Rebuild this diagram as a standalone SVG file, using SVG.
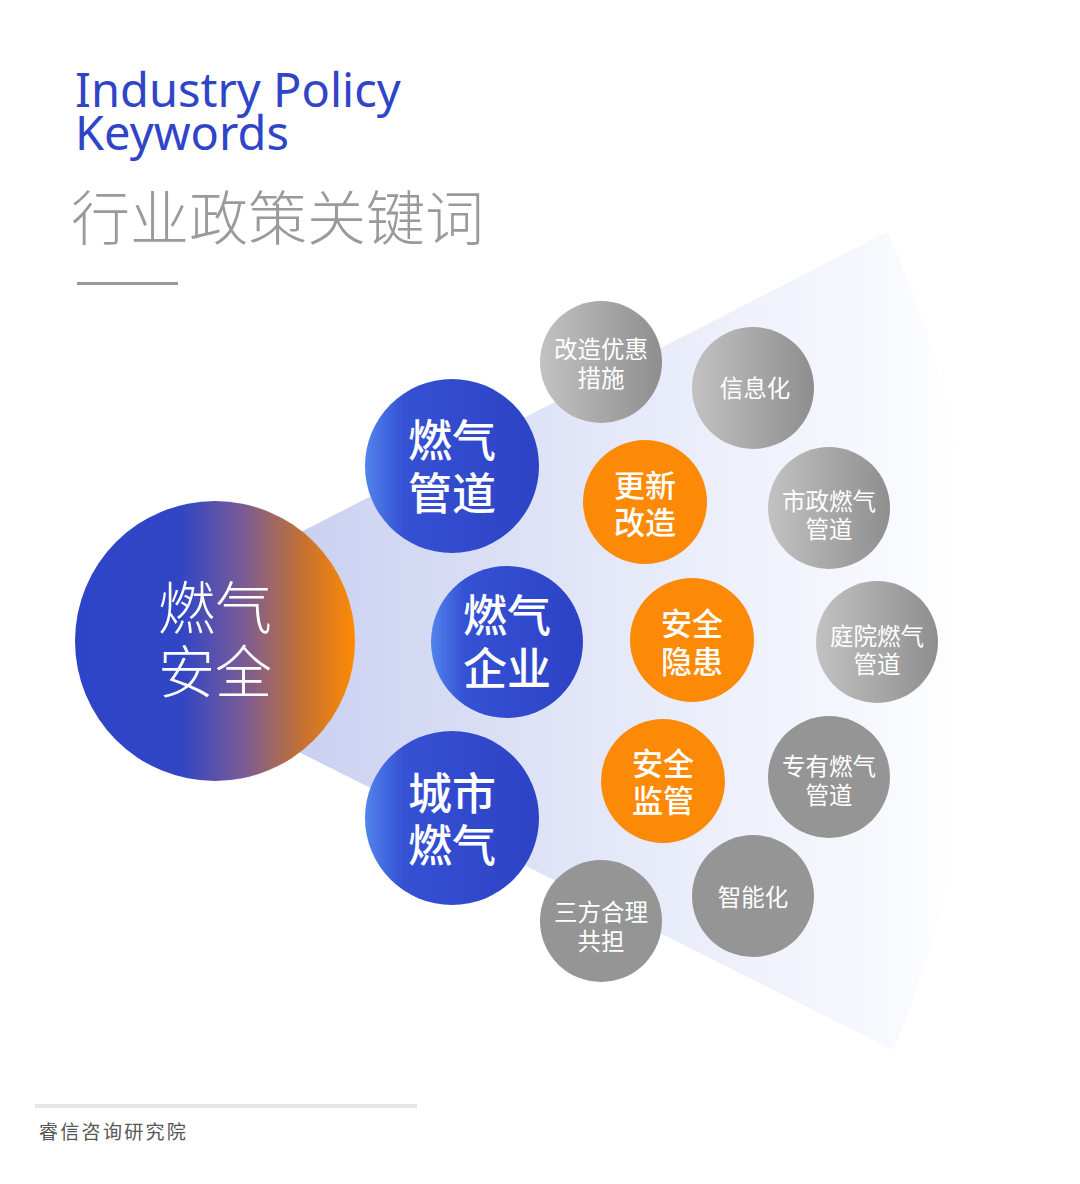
<svg xmlns="http://www.w3.org/2000/svg" width="1080" height="1184" viewBox="0 0 1080 1184">
<defs>
<linearGradient id="fanGrad" x1="215" y1="0" x2="960" y2="0" gradientUnits="userSpaceOnUse">
<stop offset="0" stop-color="#c3c9ee"/>
<stop offset="0.35" stop-color="#d9def5"/>
<stop offset="0.7" stop-color="#eef1fb"/>
<stop offset="0.9" stop-color="#f8f9fe"/>
<stop offset="1" stop-color="#ffffff"/>
</linearGradient>
<linearGradient id="mainGrad" x1="0" y1="0" x2="1" y2="0">
<stop offset="0" stop-color="#2e44c8"/>
<stop offset="0.38" stop-color="#3146c5"/>
<stop offset="0.6" stop-color="#7a5b97"/>
<stop offset="0.82" stop-color="#c6722f"/>
<stop offset="1" stop-color="#ff8a04"/>
</linearGradient>
<linearGradient id="blueGrad" x1="0" y1="0" x2="1" y2="0">
<stop offset="0" stop-color="#5284ec"/>
<stop offset="0.22" stop-color="#3551d4"/>
<stop offset="1" stop-color="#2d42c4"/>
</linearGradient>
<linearGradient id="greyGrad" x1="0" y1="0" x2="1" y2="0">
<stop offset="0" stop-color="#c2c2c2"/>
<stop offset="1" stop-color="#8e8e8e"/>
</linearGradient>
</defs>
<style>
.cjk{font-family:"Noto Sans CJK SC","Noto Sans",sans-serif;}
.main{fill:url(#mainGrad);}
.blue{fill:url(#blueGrad);}
.orange{fill:#fd8a06;}
.greyg{fill:url(#greyGrad);}
.greyf{fill:#959595;}
.tBig{font-size:57px;font-weight:300;fill:#ffffff;text-anchor:middle;}
.tBlue{font-size:44px;font-weight:500;fill:#ffffff;text-anchor:middle;}
.tOr{font-size:31px;font-weight:500;fill:#ffffff;text-anchor:middle;}
.tGr{font-size:23.5px;font-weight:400;fill:#ffffff;text-anchor:middle;}
</style>
<rect x="0" y="0" width="1080" height="1184" fill="#ffffff"/>

<g id="title">
<text x="75" y="107" font-family="Noto Sans, Open Sans, sans-serif" font-size="47" fill="#2f45c8">Industry Policy</text>
<text x="75" y="150" font-family="Noto Sans, Open Sans, sans-serif" font-size="47" fill="#2f45c8">Keywords</text>
<text x="71" y="240" class="cjk" font-size="59" font-weight="300" fill="#9a9a9a">行业政策关键词</text>
<line x1="77" y1="283.5" x2="178" y2="283.5" stroke="#9a9a9a" stroke-width="3"/>
</g>

<g id="fan">
<path d="M215 576 L887 232 Q975 420 975 640 Q975 860 893 1050 L215 710 Z" fill="url(#fanGrad)"/>
</g>

<g id="connectors"></g>

<g id="node-main">
<circle cx="215" cy="641" r="140" class="main"/>
<text x="215" y="629" class="cjk tBig">燃气</text>
<text x="215" y="693" class="cjk tBig">安全</text>
</g>

<g id="node-pipe">
<circle cx="452" cy="466" r="87" class="blue"/>
<text x="452" y="457" class="cjk tBlue">燃气</text>
<text x="452" y="510" class="cjk tBlue">管道</text>
</g>
<g id="node-enterprise">
<circle cx="507" cy="642" r="76" class="blue"/>
<text x="507" y="632" class="cjk tBlue">燃气</text>
<text x="507" y="685" class="cjk tBlue">企业</text>
</g>
<g id="node-city">
<circle cx="452" cy="818" r="87" class="blue"/>
<text x="452" y="810" class="cjk tBlue">城市</text>
<text x="452" y="862" class="cjk tBlue">燃气</text>
</g>

<g id="node-renew">
<circle cx="645" cy="502" r="62" class="orange"/>
<text x="645" y="497" class="cjk tOr">更新</text>
<text x="645" y="534" class="cjk tOr">改造</text>
</g>
<g id="node-hazard">
<circle cx="692" cy="640" r="62" class="orange"/>
<text x="692" y="635" class="cjk tOr">安全</text>
<text x="692" y="673" class="cjk tOr">隐患</text>
</g>
<g id="node-supervise">
<circle cx="663" cy="781" r="62" class="orange"/>
<text x="663" y="775" class="cjk tOr">安全</text>
<text x="663" y="812" class="cjk tOr">监管</text>
</g>

<g id="node-incentive">
<circle cx="601" cy="362" r="61" class="greyg"/>
<text x="601" y="358" class="cjk tGr">改造优惠</text>
<text x="601" y="387" class="cjk tGr">措施</text>
</g>
<g id="node-info">
<circle cx="753" cy="388" r="61" class="greyg"/>
<text x="755" y="397" class="cjk tGr">信息化</text>
</g>
<g id="node-municipal">
<circle cx="829" cy="508" r="61" class="greyg"/>
<text x="829" y="510" class="cjk tGr">市政燃气</text>
<text x="829" y="538" class="cjk tGr">管道</text>
</g>
<g id="node-courtyard">
<circle cx="877" cy="642" r="61" class="greyg"/>
<text x="877" y="645" class="cjk tGr">庭院燃气</text>
<text x="877" y="673" class="cjk tGr">管道</text>
</g>
<g id="node-private">
<circle cx="829" cy="777" r="61" class="greyf"/>
<text x="829" y="775" class="cjk tGr">专有燃气</text>
<text x="829" y="804" class="cjk tGr">管道</text>
</g>
<g id="node-smart">
<circle cx="753" cy="896" r="61" class="greyf"/>
<text x="753" y="906" class="cjk tGr">智能化</text>
</g>
<g id="node-share">
<circle cx="601" cy="921" r="61" class="greyf"/>
<text x="601" y="921" class="cjk tGr">三方合理</text>
<text x="601" y="950" class="cjk tGr">共担</text>
</g>

<g id="footer">
<line x1="35" y1="1106" x2="417" y2="1106" stroke="#e6e6e6" stroke-width="4"/>
<text x="39" y="1139" class="cjk" font-size="19" letter-spacing="2.3" fill="#555555">睿信咨询研究院</text>
</g>
</svg>
